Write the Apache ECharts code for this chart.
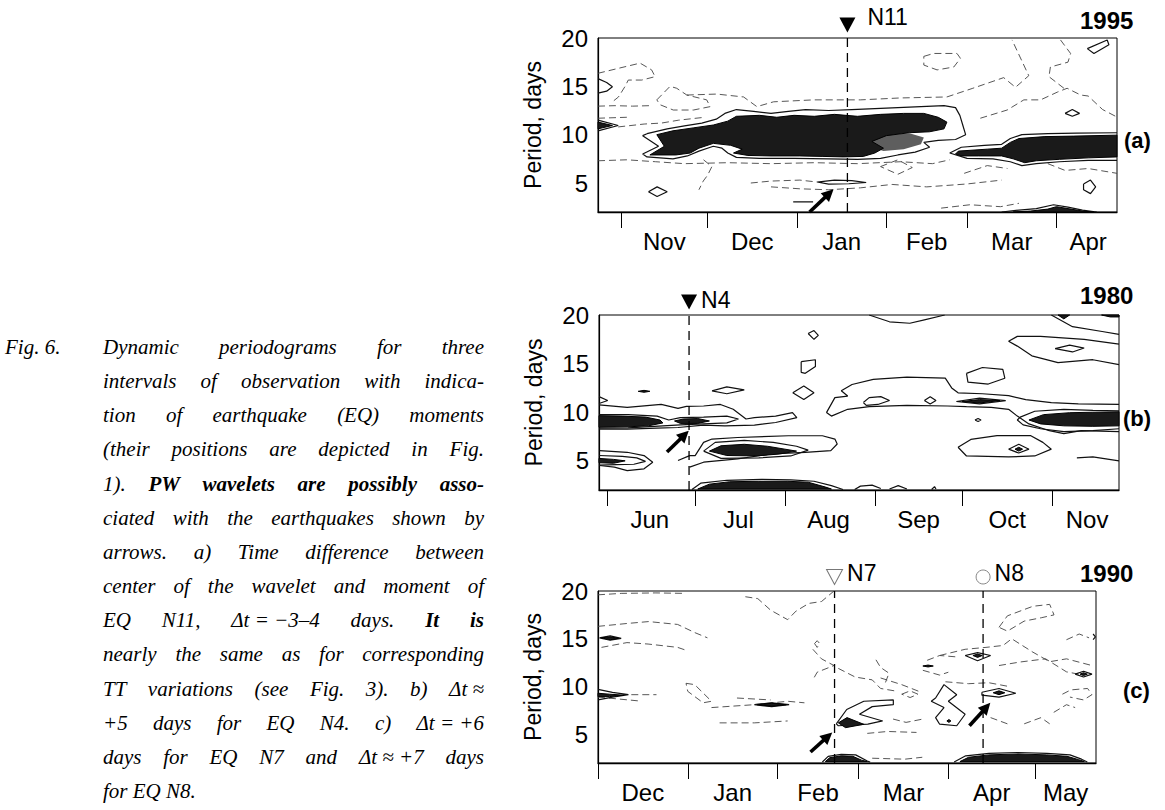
<!DOCTYPE html>
<html>
<head>
<meta charset="utf-8">
<script src="https://cdn.jsdelivr.net/npm/echarts@6/dist/echarts.min.js"></script>
<style>
  html, body { margin: 0; background: #fff; }
  #chart { width: 1165px; height: 810px; }
</style>
</head>
<body>
<div id="chart"></div>
<script>
// Dynamic periodograms, Fig. 6 — three panels, x = days from start of window, y = period (days)

const PERIOD_MIN = 2
const PERIOD_MAX = 20
const PERIOD_TICKS = [5, 10, 15, 20]

// ---- (a) Oct 1994 – Apr 1995, day 0 = 24 Oct ----
const A_SPAN = 180
const A_MONTHS = ['Nov', 'Dec', 'Jan', 'Feb', 'Mar', 'Apr']
const A_MONTH_STARTS = [8, 38, 69, 100, 128, 159]
const A_MONTH_MIDS = [23, 53.5, 84.5, 114, 143.5, 170]
const A_EQ_DAYS = [86.5]
const A_EQ_NAMES = ['N11']
const A_ARROWS = [[[73.4, 2.0], [81.7, 4.35]]]
const A_GRAY = [
  [[93, 9.4], [100, 9.95], [108, 10.15], [113, 9.7], [112, 9.0], [106, 8.5], [99, 8.3], [96, 8.6]]
]
const A_FILLED = [
  [[20.4, 10.0], [26, 10.4], [33, 10.7], [40, 11.0], [45, 11.4], [48, 11.9], [56, 12.0], [62, 11.8], [68, 12.0], [75, 11.9],
   [82, 12.1], [90, 11.9], [98, 12.1], [106, 12.2], [113, 12.2], [118, 11.8], [121, 11.3], [120, 10.6], [115, 10.3], [108, 10.2],
   [100, 9.9], [95, 9.3], [99, 8.6], [96, 8.1], [92, 7.75], [85, 7.7], [78, 7.75], [70, 7.8], [60, 7.8], [52, 7.85], [47, 8.1],
   [50, 8.5], [46, 8.9], [40, 9.1], [35, 8.6], [32, 8.1], [27, 7.9], [18, 7.9], [23, 8.8]],
  [[125, 8.3], [135, 8.5], [140, 8.6], [143, 9.2], [146, 9.6], [155, 9.8], [165, 9.85], [180, 9.95], [180, 7.7], [170, 7.6],
   [160, 7.45], [152, 7.3], [148, 7.1], [144, 7.5], [140, 7.8], [132, 7.8], [126, 7.8], [124, 8.0]],
  [[0, 11.3], [5, 10.95], [0, 10.6]],
  [[144, 2.0], [150, 2.1], [156, 2.3], [159, 2.55], [163, 2.35], [168, 2.1], [172, 2.0]]
]
const A_SOLID = [
  [[17, 10.1], [24, 10.6], [30, 10.9], [36, 11.2], [41, 11.6], [44, 12.2], [48, 12.6], [54, 12.4], [60, 12.2], [66, 12.4],
   [72, 12.6], [80, 12.5], [88, 12.6], [96, 12.7], [104, 12.8], [112, 12.9], [120, 13.0], [124, 12.8], [125.5, 12.0], [126.5, 11.0],
   [127.5, 10.0], [124, 9.5], [118, 9.4], [113, 9.2], [115, 8.7], [110, 8.2], [104, 7.9], [98, 7.55], [90, 7.45], [80, 7.5],
   [68, 7.55], [56, 7.55], [48, 7.65], [45, 8.1], [43, 8.6], [40, 8.8], [35, 8.3], [31, 7.8], [26, 7.5], [17, 7.7], [15.5, 8.0],
   [21, 8.8], [15.5, 9.9], [17, 10.1]],
  [[180, 10.2], [166, 10.15], [156, 10.1], [147, 10.0], [143, 9.6], [140, 9.0], [134, 8.9], [126, 8.7], [122, 8.1], [128, 7.55],
   [137, 7.5], [143, 7.2], [147, 6.8], [152, 7.0], [160, 7.2], [170, 7.35], [180, 7.35]],
  [[0, 11.5], [7, 10.95], [0, 10.4]],
  [[0, 15.8], [3, 15.4], [5, 14.95], [3, 14.5], [0, 14.3]],
  [[76, 5.1], [82, 5.3], [88, 5.25], [93, 5.05], [87, 4.92], [80, 4.88], [76, 5.1]],
  [[17.5, 4.1], [20.5, 4.6], [24, 4.1], [20.5, 3.6], [17.5, 4.1]],
  [[67.7, 3.05], [74.6, 3.05]],
  [[169.7, 18.9], [176.6, 19.8], [177.2, 19.3], [172, 18.4], [169.7, 18.9]],
  [[162, 12.2], [164.5, 12.6], [167, 12.2], [164.5, 11.9], [162, 12.2]],
  [[168.4, 4.9], [170.8, 5.3], [172.6, 4.6], [170.8, 3.9], [168.4, 4.3], [168.4, 4.9]],
  [[140, 2.0], [146, 2.2], [152, 2.35], [158, 2.75], [163, 2.5], [168, 2.2], [173, 2.0]]
]
const A_DASHED = [
  [[0, 16.35], [7.6, 16.9], [14.6, 17.4], [18.6, 16.7], [19.8, 16.0], [15.2, 15.65], [10.5, 15.65], [9.4, 15], [7.1, 13.9], [5, 13.4]],
  [[20.4, 13.6], [25, 15], [27.3, 14.8], [30.8, 14.1], [37.7, 13.6], [38.9, 12.9], [33.1, 12.55], [26.1, 12.55], [21.5, 13.1], [20.4, 13.6]],
  [[30.8, 14.1], [41.2, 14.2], [50.5, 13.9], [55.1, 12.9], [60.9, 13.4], [74.8, 13.6], [86.4, 13.6], [91, 13.6], [105, 13.8],
   [121, 13.9], [130, 14.8], [140.7, 15.9], [144.8, 14.9], [149.4, 16.1], [143.6, 19.8]],
  [[132.6, 11.7], [141.9, 12.55], [147.7, 13.6], [153.5, 13.6], [159.3, 14.4], [162.7, 14.8], [167.4, 14.1], [170, 14.0], [175, 12.6], [179.5, 11.9]],
  [[160.4, 19.8], [163.9, 18.4], [163, 17.5], [156.9, 17.0], [156.4, 16.0], [161.6, 14.8]],
  [[113, 18.1], [116.4, 18.4], [124.5, 18.4], [125.7, 17.9], [123.4, 17.0], [117.6, 16.7], [113, 17.2], [113, 18.1]],
  [[0, 7.3], [10, 7.4], [20, 7.2], [30, 7.0], [45, 7.1], [60, 7.0], [75, 7.1], [90, 7.0], [105, 7.2], [116, 7.0], [122, 7.4]],
  [[0, 12.95], [6, 13.0], [12, 12.95], [18, 13.0]],
  [[0, 11.7], [10, 11.8]],
  [[7, 10.8], [16, 11.1], [22, 11.2], [28, 11.5], [37, 11.8]],
  [[36.6, 7.4], [39.5, 6.7], [38, 5.8], [36.5, 5.2], [35, 4.3]],
  [[53, 5.0], [60, 5.2], [70, 5.3], [76, 5.1]],
  [[60, 4.6], [70, 4.4], [80, 4.3], [91, 4.5], [102, 4.85], [114, 4.6], [128, 4.9], [140, 5.3]],
  [[119, 2.4], [129, 2.75], [139.6, 2.55], [146, 2.9]],
  [[98, 6.7], [104, 7.4], [109, 6.6], [104, 5.9], [98, 6.7]],
  [[127, 6.0], [135, 6.8], [142, 6.5]],
  [[156, 7.0], [162, 6.3], [170, 6.5], [180, 6.0]]
]

// ---- (b) May – Nov 1980, day 0 = 29 May ----
const B_SPAN = 179
const B_MONTHS = ['Jun', 'Jul', 'Aug', 'Sep', 'Oct', 'Nov']
const B_MONTH_STARTS = [3, 33, 64, 95, 125, 156]
const B_MONTH_MIDS = [17.5, 48, 79, 110, 140.5, 168]
const B_EQ_DAYS = [31]
const B_EQ_NAMES = ['N4']
const B_ARROWS = [[[23.4, 5.9], [30.9, 8.1]]]
const B_GRAY = []
const B_FILLED = [
  [[0, 9.65], [8, 9.6], [16, 9.5], [21, 9.2], [22, 8.9], [17, 8.6], [10, 8.5], [0, 8.45]],
  [[26, 9.1], [29, 9.3], [34, 9.35], [38, 9.1], [34, 8.85], [28, 8.85]],
  [[38, 6.0], [42, 6.55], [50, 6.7], [58, 6.5], [64, 6.2], [68, 6.0], [62, 5.7], [54, 5.5], [44, 5.55]],
  [[0, 5.25], [5, 5.15], [9, 5.0], [5, 4.75], [0, 4.8]],
  [[34, 2.1], [38, 2.6], [45, 2.85], [55, 2.9], [65, 2.9], [72, 2.8], [78, 2.3], [80, 2.1]],
  [[125, 11.1], [131, 11.3], [138, 11.2], [131, 10.95]],
  [[148, 9.2], [153, 9.75], [162, 9.95], [170, 10.0], [179, 10.05], [179, 8.6], [170, 8.55], [160, 8.6], [152, 8.8]],
  [[143.2, 6.2], [144.5, 6.4], [145.8, 6.2], [144.5, 6.0]],
  [[158, 20], [160, 19.6], [162, 20]],
  [[173, 20], [176, 19.8], [179, 19.8], [179, 20]],
  [[13.5, 12.15], [15.5, 12.25], [17.5, 12.15], [15.5, 12.05]]
]
const B_SOLID = [
  [[0, 10.75], [9.7, 10.5], [21.4, 10.8], [27.2, 10.4], [30.1, 10.6], [36, 10.64], [41.8, 10.8], [46.2, 10.3], [50.6, 9.3], [53.5, 9.45],
   [60.8, 9.6], [66.6, 9.96], [68.1, 9.45], [60.8, 8.94], [53.5, 8.67], [43.3, 8.6], [36, 8.67], [27.2, 8.43], [19.9, 8.37], [9.7, 8.26], [0, 8.26]],
  [[0, 9.75], [10, 9.75], [20, 9.6], [24, 9.2], [28, 9.45], [36, 9.5], [44, 9.6], [48, 9.3], [44, 8.9], [36, 8.8], [28, 8.7], [22, 8.6], [10, 8.4], [0, 8.35]],
  [[36, 6.0], [40, 6.9], [50, 7.1], [60, 6.9], [68, 6.5], [72, 6.1], [66, 5.5], [55, 5.3], [42, 5.25], [36, 6.0]],
  [[27.2, 5.03], [31.2, 5.54], [33.1, 5.54], [36, 6.9], [38.9, 7.24], [47.7, 7.4], [65.2, 7.58], [76.9, 7.58], [81.2, 7.24], [82, 6.73],
   [79.8, 6.05], [71, 5.88], [59.3, 5.71], [47.7, 5.2], [36, 4.86], [31.2, 4.35]],
  [[0, 5.55], [8, 5.45], [13, 5.3], [16, 4.95], [12, 4.65], [6, 4.6], [0, 4.55]],
  [[0.2, 6.05], [9.7, 5.88], [15.5, 5.54], [18.5, 4.86], [15.5, 4.18], [9.7, 4.0], [5.3, 4.35], [0.2, 4.52]],
  [[32, 2.05], [35, 2.7], [44, 3.0], [56, 3.1], [66, 3.05], [74, 2.9], [80, 2.45], [84, 2.05]],
  [[88, 2.05], [90, 2.4], [94, 2.5], [97, 2.15]],
  [[100, 2.1], [103, 2.45], [106, 2.1]],
  [[114.5, 2.05], [115.5, 2.35], [116, 2.1]],
  [[38.9, 12.2], [44, 12.6], [50, 12.3], [44, 11.9], [38.9, 12.2]],
  [[72, 18.1], [74, 18.4], [75.5, 17.9], [74, 17.5], [72, 18.1]],
  [[69.6, 15.2], [74.5, 15.4], [74.5, 14.7], [71, 14.0], [69.6, 14.1], [69.6, 15.2]],
  [[66.7, 12.0], [70.5, 12.7], [74, 12.0], [70.5, 11.3], [66.7, 12.0]],
  [[78.3, 9.96], [81.2, 11.5], [85.6, 11.66], [83.4, 12.2], [87.1, 12.85], [94.4, 13.37], [106, 13.6], [119.2, 13.5], [121.4, 12.5],
   [123.6, 12.0], [132, 11.9], [141, 11.7], [146.9, 11.3], [155.7, 10.98], [165, 10.85], [179, 10.8]],
  [[78.3, 9.96], [80, 9.6], [85.6, 10.3], [93, 10.57], [106, 10.7], [120, 10.64], [126.5, 10.57], [135, 10.5], [141, 10.3], [144, 9.6],
   [148, 8.8], [155, 8.1], [160, 7.8], [166, 8.1], [179, 8.0]],
  [[91, 11.0], [93, 11.5], [97, 11.6], [100, 11.2], [96, 10.8], [92, 10.7], [91, 11.0]],
  [[112, 11.2], [114, 11.6], [116, 11.2], [114, 10.85], [112, 11.2]],
  [[126.5, 14.0], [132, 14.6], [139, 14.4], [139.7, 13.5], [134, 12.9], [127, 13.1], [126.5, 14.0]],
  [[123, 11.1], [131, 11.45], [140, 11.2], [131, 10.85], [123, 11.1]],
  [[129.4, 9.2], [130.5, 9.35], [131.5, 9.2], [130.5, 9.05], [129.4, 9.2]],
  [[141, 6.2], [144.5, 6.7], [148, 6.2], [144.5, 5.8], [141, 6.2]],
  [[123.6, 6.4], [128, 7.2], [137, 7.6], [148.5, 7.6], [152.8, 6.9], [155.7, 6.2], [150, 5.5], [141, 5.4], [126.5, 5.5], [123.6, 6.4]],
  [[164.5, 5.3], [170, 5.4], [179, 5.0]],
  [[179, 10.15], [170, 10.2], [160, 10.3], [150, 10.1], [145, 9.5], [144, 9.2], [146, 8.7], [152, 8.3], [160, 8.0], [170, 8.1], [179, 8.3]],
  [[93, 20], [100, 19.3], [107, 19.15], [112, 19.5], [119, 20]],
  [[155.7, 20], [163, 18.8], [173.2, 18.3], [179, 18.0]],
  [[179, 17.0], [167, 17.5], [152, 17.8], [144, 17.8], [141, 17.3], [144, 16.8], [149, 15.8], [158, 15.1], [170, 15.4], [179, 14.9]],
  [[157, 16.55], [162, 16.9], [167, 16.6], [163, 16.2], [157, 16.55]],
  [[0, 11.6], [3, 11.2], [0, 10.9]]
]
const B_DASHED = []

// ---- (c) Dec 1989 – May 1990, day 0 = 1 Dec ----
const C_SPAN = 172
const C_MONTHS = ['Dec', 'Jan', 'Feb', 'Mar', 'Apr', 'May']
const C_MONTH_STARTS = [0, 31, 62, 90, 121, 151]
const C_MONTH_MIDS = [15.5, 46.5, 76, 105.5, 136, 161.5]
const C_EQ_DAYS = [81.7, 133]
const C_EQ_NAMES = ['N7', 'N8']
const C_ARROWS = [[[73.4, 3.15], [80.9, 5.2]], [[128.3, 5.9], [135.5, 8.3]]]
const C_GRAY = []
const C_FILLED = [
  [[83, 6.2], [86, 6.75], [91.8, 6.05], [85.5, 5.7]],
  [[78.5, 2.15], [80, 2.55], [84, 2.75], [88, 2.7], [91, 2.3], [93, 2.15]],
  [[125, 2.15], [128, 2.6], [135, 2.85], [145, 2.95], [155, 2.85], [162, 2.7], [166, 2.35], [168, 2.15]],
  [[1.2, 15.1], [4.2, 15.2], [7.1, 15.05], [4.2, 14.9]],
  [[0, 9.3], [4, 9.2], [9, 9.1], [4, 8.95], [0, 8.95]],
  [[55, 8.1], [60, 8.25], [65, 8.1], [60, 7.95]],
  [[129.5, 13.25], [131.1, 13.4], [132.7, 13.25], [131.1, 13.05]],
  [[136.5, 9.35], [138.5, 9.55], [140.5, 9.35], [138.5, 9.15]],
  [[166.5, 11.3], [167.7, 11.45], [169, 11.3], [167.7, 11.15]],
  [[120.5, 6.4], [121.2, 6.55], [121.9, 6.4], [121.2, 6.25]],
  [[112.2, 12.15], [114, 12.25], [115.8, 12.15], [114, 12.05]]
]
const C_SOLID = [
  [[82.3, 6.1], [85.9, 7.6], [91.8, 8.46], [102, 8.6], [102, 8.1], [94.7, 7.9], [90.3, 7.1], [98.3, 6.4], [93.2, 6.06], [83, 5.9], [82.3, 6.1]],
  [[116.6, 8.8], [119.5, 10.2], [123.9, 9.15], [121, 8.46], [126.8, 7.1], [123.9, 5.9], [118, 6.06], [116.6, 6.75], [119.5, 7.8], [115.1, 8.46], [116.6, 8.8]],
  [[126.8, 13.25], [131.1, 13.55], [135.6, 13.25], [131.1, 12.7], [126.8, 13.25]],
  [[132.6, 9.4], [138.5, 9.8], [144.3, 9.3], [138.5, 8.9], [132.6, 9.1], [132.6, 9.4]],
  [[164.8, 11.3], [167.7, 11.6], [170.6, 11.3], [167.7, 11.0], [164.8, 11.3]],
  [[0, 9.7], [5, 9.4], [10.5, 9.15], [5, 8.9], [0, 8.6]],
  [[0.5, 15.1], [4.2, 15.3], [8, 15.05], [4.2, 14.85], [0.5, 15.1]],
  [[54, 8.1], [60, 8.3], [66, 8.1], [60, 7.9], [54, 8.1]],
  [[77.5, 2.1], [79.5, 2.7], [84, 2.9], [89, 2.85], [93, 2.2], [94, 2.1]],
  [[123, 2.1], [127, 2.75], [135, 3.0], [145, 3.1], [155, 3.0], [163, 2.85], [167, 2.4], [169, 2.1]],
  [[171, 15.5], [171.8, 15.2], [171, 14.9]]
]
const C_DASHED = [
  [[0, 19.6], [8, 19.75], [20, 19.8], [30, 19.75]],
  [[0, 16.3], [10, 16.6], [17.5, 16.8], [27.5, 16.5], [33.4, 15.65], [37.8, 15.1]],
  [[1.2, 14.1], [10, 14.6], [17.3, 14.45], [27.5, 14.1], [30.4, 13.8]],
  [[11.5, 9.15], [20.2, 9.15]],
  [[0, 8.9], [14, 8.5]],
  [[30.4, 10.34], [33.4, 10.2], [39.2, 8.46], [36.3, 8.3], [31, 9.5], [30.4, 10.34]],
  [[39.2, 7.8], [53.8, 8.1], [65.5, 8.46], [71.3, 8.3]],
  [[42, 6.2], [54, 6.2], [65.5, 6.4]],
  [[48, 8.8], [59.6, 8.6]],
  [[50.9, 19.4], [55.2, 19.2], [59.6, 18.0], [65.5, 17.0], [68.4, 17.9], [72.8, 18.7], [77.2, 18.9], [81.5, 20]],
  [[74.8, 14.5], [75.7, 14.8], [76.6, 14.5], [75.7, 14.1], [74.8, 14.5]],
  [[74.2, 13.9], [77.2, 12.9], [81.5, 12.2], [75.7, 11.5], [74.2, 10.7]],
  [[83, 11.9], [88.8, 11.0], [94.7, 10.7], [97.6, 9.8], [103.4, 9.5]],
  [[96, 12.8], [97.6, 12.0], [100.5, 11.4], [99, 10.2]],
  [[104.9, 9.2], [107.8, 9.55], [110.5, 9.2], [107.8, 8.85], [104.9, 9.2]],
  [[138.5, 16.2], [141.4, 17.4], [150.2, 18.4], [156, 18.6], [157.5, 17.5], [153.1, 17.2], [147.2, 16.85], [141.4, 15.8], [138.5, 16.2]],
  [[118, 13.25], [126.8, 13.9], [134, 14.1], [139.9, 14.3], [142.9, 15.0], [150.2, 13.6], [156, 12.6], [161.8, 12.9], [170.6, 12.2]],
  [[138.5, 12.2], [145.8, 12.57], [154.6, 12.9], [161.8, 11.54], [167.7, 11.2]],
  [[161.8, 14.9], [166.2, 15.5], [169.6, 15.1]],
  [[160.4, 9.2], [163.3, 9.65], [169.1, 9.8], [170.6, 9.15], [167.7, 8.6], [163, 8.9]],
  [[120, 10.5], [128, 10.3], [135, 10.4], [142, 10.0]],
  [[135.6, 6.75], [141.4, 6.1]],
  [[147.2, 6.1], [153, 6.75], [156, 6.1]],
  [[157.4, 7.3], [161.8, 8.1], [164.8, 7.8]],
  [[101.9, 6.6], [106.4, 6.25], [112.2, 6.6]],
  [[93, 5.1], [100, 5.3], [110, 5.2]],
  [[97.6, 10.9], [104.9, 10.2], [110.8, 9.5]],
  [[112.2, 11.7], [118, 11.2], [121, 11.5]],
  [[113.7, 12.75], [118, 13.25], [124, 13.1]],
  [[94.7, 2.5], [106, 2.4], [112, 2.6]]
]

// caption
const CAPTION_HEAD = 'Fig. 6.'
const CAPTION_LINES = [
  'Dynamic periodograms for three',
  'intervals of observation with indica-',
  'tion of earthquake (EQ) moments',
  '(their positions are depicted in Fig.',
  '1). PW wavelets are possibly asso-',
  'ciated with the earthquakes shown by',
  'arrows. a) Time difference between',
  'center of the wavelet and moment of',
  'EQ N11, \u0394t\u00a0=\u00a0\u22123\u20134 days. It is',
  'nearly the same as for corresponding',
  'TT variations (see Fig. 3). b) \u0394t\u00a0\u2248',
  '+5 days for EQ N4. c) \u0394t\u00a0=\u00a0+6',
  'days for EQ N7 and \u0394t\u00a0\u2248\u00a0+7 days',
  'for EQ N8.'
]
const CAPTION_BOLD = { 4: ['PW', 'wavelets', 'are', 'possibly', 'asso-'], 8: ['It', 'is'] }

const SANS = '"Liberation Sans", Arial, sans-serif'
const SERIF = '"Liberation Serif", "Times New Roman", serif'

const GRIDS = [
  { left: 598, top: 38, width: 519, height: 174 },
  { left: 599, top: 315, width: 520, height: 175 },
  { left: 598, top: 591, width: 498, height: 172 }
]

const PANELS = [
  { span: A_SPAN, months: A_MONTHS, starts: A_MONTH_STARTS, mids: A_MONTH_MIDS, eq: A_EQ_DAYS, eqNames: A_EQ_NAMES,
    arrows: A_ARROWS, gray: A_GRAY, filled: A_FILLED, solid: A_SOLID, dashed: A_DASHED },
  { span: B_SPAN, months: B_MONTHS, starts: B_MONTH_STARTS, mids: B_MONTH_MIDS, eq: B_EQ_DAYS, eqNames: B_EQ_NAMES,
    arrows: B_ARROWS, gray: B_GRAY, filled: B_FILLED, solid: B_SOLID, dashed: B_DASHED },
  { span: C_SPAN, months: C_MONTHS, starts: C_MONTH_STARTS, mids: C_MONTH_MIDS, eq: C_EQ_DAYS, eqNames: C_EQ_NAMES,
    arrows: C_ARROWS, gray: C_GRAY, filled: C_FILLED, solid: C_SOLID, dashed: C_DASHED }
]

// marker look for each EQ (panel, index)
function eqMarker(pi, k) {
  if (pi === 2) {
    if (k === 0) {
      return { symbol: 'triangle', symbolRotate: 180, symbolSize: [16, 15], symbolOffset: [0, -14],
        itemStyle: { color: 'rgba(0,0,0,0)', borderColor: '#777', borderWidth: 1 }, labelOffset: [0, -4] }
    }
    return { symbol: 'circle', symbolSize: 14, symbolOffset: [0, -14],
      itemStyle: { color: 'rgba(0,0,0,0)', borderColor: '#888', borderWidth: 1 }, labelOffset: [0, -4] }
  }
  return { symbol: 'triangle', symbolRotate: 180, symbolSize: [16, 15], symbolOffset: [0, -13],
    itemStyle: { color: '#000' }, labelOffset: pi === 0 ? [8, -8] : [0, -2] }
}

function lineSeries(i, pts, style, z) {
  return {
    type: 'line', xAxisIndex: i, yAxisIndex: i, data: pts,
    showSymbol: false, symbol: 'none', silent: true, clip: true, z: z,
    lineStyle: style
  }
}

function polySeries(i, polys, fill, stroke, z) {
  return {
    type: 'custom', coordinateSystem: 'cartesian2d', xAxisIndex: i, yAxisIndex: i, silent: true, z: z,
    data: polys.map((p, k) => [p[0][0], p[0][1], k]),
    renderItem: (params, api) => ({
      type: 'polygon',
      shape: { points: polys[api.value(2)].map(pt => api.coord(pt)) },
      style: { fill: fill, stroke: stroke, lineWidth: 1 }
    })
  }
}

// thick arrows with filled heads, ends placed through the axes
function arrowSeries(i, arrows) {
  return {
    type: 'custom', coordinateSystem: 'cartesian2d', xAxisIndex: i, yAxisIndex: i, silent: true, z: 8,
    data: arrows.map((a, k) => [a[1][0], a[1][1], k]),
    renderItem: (params, api) => {
      const a = arrows[api.value(2)]
      const p0 = api.coord(a[0])
      const p1 = api.coord(a[1])
      const dx = p1[0] - p0[0]
      const dy = p1[1] - p0[1]
      const len = Math.sqrt(dx * dx + dy * dy)
      const ux = dx / len
      const uy = dy / len
      const hl = 12
      const hw = 6
      const bx = p1[0] - ux * hl
      const by = p1[1] - uy * hl
      return {
        type: 'group',
        children: [
          { type: 'line', shape: { x1: p0[0], y1: p0[1], x2: bx + ux * 2, y2: by + uy * 2 }, style: { stroke: '#000', lineWidth: 3.6 } },
          { type: 'polygon', shape: { points: [p1, [bx - uy * hw, by + ux * hw], [bx + uy * hw, by - ux * hw]] }, style: { fill: '#000' } }
        ]
      }
    }
  }
}

const xAxes = []
const yAxes = []
const series = []

PANELS.forEach((p, i) => {
  xAxes.push({
    gridIndex: i, type: 'value', min: 0, max: p.span,
    axisLine: { show: true, onZero: false, lineStyle: { color: '#000', width: 1.3 } },
    axisTick: { show: true, customValues: p.starts, length: 16, lineStyle: { color: '#000', width: 1 } },
    axisLabel: {
      customValues: p.mids, margin: 17, color: '#000', fontSize: 24, fontFamily: SANS,
      formatter: v => p.months[p.mids.indexOf(v)] || ''
    },
    splitLine: { show: false }
  })
  yAxes.push({
    gridIndex: i, type: 'value', min: PERIOD_MIN, max: PERIOD_MAX,
    name: 'Period, days', nameLocation: 'middle', nameGap: 54,
    nameTextStyle: { fontSize: 23, color: '#000', fontFamily: SANS },
    axisLine: { show: true, lineStyle: { color: '#000', width: 1.2 } },
    axisTick: { show: false },
    axisLabel: { customValues: PERIOD_TICKS, margin: 10, color: '#000', fontSize: 24, fontFamily: SANS },
    splitLine: { show: false }
  })

  p.dashed.forEach(pts => series.push(lineSeries(i, pts, { color: '#444', width: 0.9, type: [7, 4] }, 2)))
  if (p.gray.length) series.push(polySeries(i, p.gray, '#5e5e5e', 'none', 3))
  p.solid.forEach(pts => series.push(lineSeries(i, pts, { color: '#111', width: 1.2 }, 4)))
  series.push(polySeries(i, p.filled, '#1a1a1a', '#000', 5))

  // EQ moments: dashed verticals with markers
  p.eq.forEach((d, k) => {
    const m = eqMarker(i, k)
    series.push({
      type: 'line', xAxisIndex: i, yAxisIndex: i, silent: true, z: 6,
      data: [[d, PERIOD_MIN], [d, PERIOD_MAX]],
      showSymbol: false, symbol: 'none',
      lineStyle: { color: '#000', width: 1.3, type: [9, 6] },
      markPoint: {
        silent: true,
        data: [{
          coord: [d, PERIOD_MAX], symbol: m.symbol, symbolRotate: m.symbolRotate || 0,
          symbolSize: m.symbolSize, symbolOffset: m.symbolOffset, itemStyle: m.itemStyle,
          label: {
            show: true, formatter: p.eqNames[k], position: 'right', distance: 4, offset: m.labelOffset,
            color: '#000', fontSize: 23, fontFamily: SANS
          }
        }]
      }
    })
  })
  series.push(arrowSeries(i, p.arrows))
})

// caption with justified lines
const measureCtx = document.createElement('canvas').getContext('2d')
function textWidth(s, font) {
  measureCtx.font = font
  return measureCtx.measureText(s).width
}
const FONT_IT = 'italic 21px ' + SERIF
const FONT_BI = 'italic bold 21px ' + SERIF

function textEl(s, x, y, font, align) {
  return {
    type: 'text', silent: true,
    style: { text: s, x: x, y: y, font: font, fill: '#000', textAlign: align || 'left', textVerticalAlign: 'middle',
      align: align || 'left', verticalAlign: 'middle' }
  }
}

function captionElements() {
  const x0 = 103, x1 = 484, y0 = 347, lh = 34.15
  const els = [textEl(CAPTION_HEAD, 5, y0, FONT_IT)]
  CAPTION_LINES.forEach((line, li) => {
    const words = line.split(' ')
    const bold = CAPTION_BOLD[li] || []
    const fonts = words.map(w => (bold.indexOf(w) >= 0 ? FONT_BI : FONT_IT))
    const widths = words.map((w, k) => textWidth(w, fonts[k]))
    const total = widths.reduce((s, v) => s + v, 0)
    const last = li === CAPTION_LINES.length - 1
    const gap = last ? textWidth(' ', FONT_IT) : (x1 - x0 - total) / (words.length - 1)
    let x = x0
    words.forEach((w, k) => {
      els.push(textEl(w, x, y0 + li * lh, fonts[k]))
      x += widths[k] + gap
    })
  })
  return els
}

const labelEls = [
  textEl('1995', 1080, 20, 'bold 24px ' + SANS),
  textEl('1980', 1080, 295, 'bold 24px ' + SANS),
  textEl('1990', 1080, 573, 'bold 24px ' + SANS),
  textEl('(a)', 1124, 140, 'bold 22px ' + SANS),
  textEl('(b)', 1123, 418, 'bold 22px ' + SANS),
  textEl('(c)', 1123, 690, 'bold 22px ' + SANS)
]

const chart = echarts.init(document.getElementById('chart'), null, { renderer: 'svg' })
chart.setOption({
  animation: false,
  backgroundColor: '#fff',
  grid: GRIDS.map(g => Object.assign({ show: true, borderColor: '#000', borderWidth: 1, backgroundColor: 'transparent' }, g)),
  xAxis: xAxes,
  yAxis: yAxes,
  series: series,
  graphic: { elements: captionElements().concat(labelEls) }
})
</script>
</body>
</html>
